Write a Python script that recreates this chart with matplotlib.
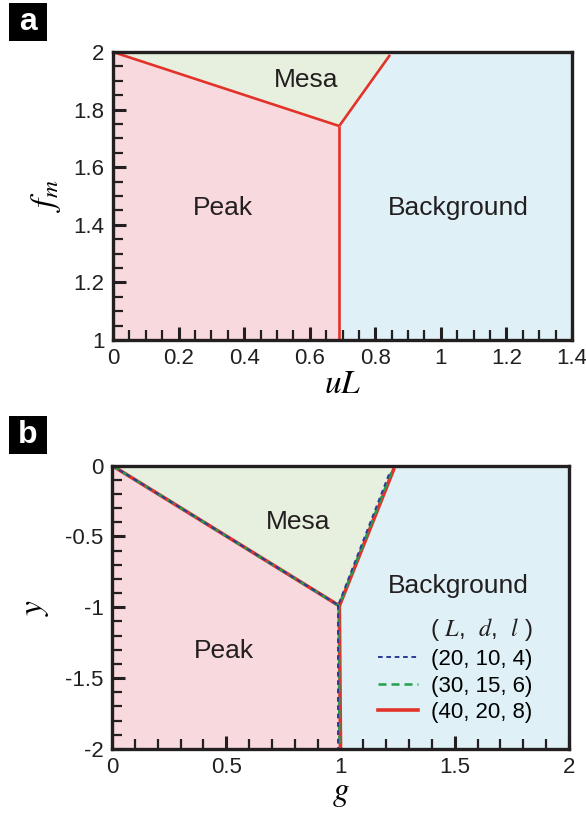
import numpy as np
import matplotlib
matplotlib.use("Agg")
import matplotlib.pyplot as plt
from matplotlib.patches import Rectangle
from matplotlib.ticker import MultipleLocator

plt.rcParams["font.family"] = ["Liberation Sans", "DejaVu Sans"]
plt.rcParams["mathtext.fontset"] = "stix"

PINK = "#f8d9de"
GREEN = "#e7f0de"
BLUE = "#dff1f6"
RED = "#e2332a"
INK = "#231f20"

# ── panel a: phase boundaries in the (uL, f_m) plane ────────────────────────
a_peak_mesa_x = [0.0, 0.69]
a_peak_mesa_y = [2.0, 1.743]
a_mesa_bg_x = [0.69, 0.845]
a_mesa_bg_y = [1.743, 1.99]
a_peak_bg_x = [0.69, 0.69]
a_peak_bg_y = [1.743, 1.0]

# ── panel b: boundaries in the (g, y) plane for three system sizes ──────────
b_sizes = ["(20, 10, 4)", "(30, 15, 6)", "(40, 20, 8)"]
b_x = [
    [0.0, 0.99, 1.215, 0.99, 0.99],
    [0.0, 0.993, 1.222, 0.993, 0.995],
    [0.0, 0.995, 1.232, 0.995, 1.0],
]
b_y = [
    [0.0, -0.985, -0.05, -0.985, -2.0],
    [0.0, -0.99, -0.05, -0.99, -2.0],
    [0.0, -0.99, -0.03, -0.99, -2.0],
]

W, H = 586, 815
fig = plt.figure(figsize=(W / 100, H / 100), dpi=100)


def style_axes(ax, xmaj, xmin, ymaj, ymin):
    ax.xaxis.set_major_locator(MultipleLocator(xmaj))
    ax.xaxis.set_minor_locator(MultipleLocator(xmin))
    ax.yaxis.set_major_locator(MultipleLocator(ymaj))
    ax.yaxis.set_minor_locator(MultipleLocator(ymin))
    ax.tick_params(which="both", direction="in", top=False, right=False,
                   colors=INK, labelsize=16)
    ax.tick_params(which="major", length=9.5, width=2.2, pad=6)
    ax.tick_params(which="minor", length=7, width=1.6)
    ax.xaxis.set_major_formatter(lambda v, _: f"{v:g}")
    ax.yaxis.set_major_formatter(lambda v, _: f"{v:g}")
    for s in ax.spines.values():
        s.set_linewidth(2.4)
        s.set_color(INK)
        s.set_zorder(10)


def panel_label(txt, cx, cy):
    # black square with a white bold letter, centred at pixel (cx, cy)
    size = 38
    fig.patches.append(Rectangle(((cx - size / 2) / W, 1 - (cy + size / 2) / H),
                                 size / W, size / H, transform=fig.transFigure,
                                 facecolor="black", edgecolor="none"))
    fig.text(cx / W, 1 - cy / H, txt, color="white", fontsize=23,
             fontweight="bold", ha="center", va="center")


def region_text(ax, x, y, s):
    ax.text(x, y, s, fontsize=19, ha="center", va="center", color=INK)


# ── panel a ─────────────────────────────────────────────────────────────────
ax1 = fig.add_axes([113 / W, 1 - 340 / H, 459 / W, 288 / H])
ax1.set_xlim(0, 1.4)
ax1.set_ylim(1, 2)
kx, ky = a_peak_mesa_x[1], a_peak_mesa_y[1]
tx = a_mesa_bg_x[1] + 0.006
ax1.fill([0, 0, kx, a_peak_bg_x[1]], [1, 2, ky, a_peak_bg_y[1]], color=PINK, lw=0)
ax1.fill([0, kx, a_mesa_bg_x[1], tx], [2, ky, a_mesa_bg_y[1], 2], color=GREEN, lw=0)
ax1.fill([a_peak_bg_x[1], kx, a_mesa_bg_x[1], tx, 1.4, 1.4],
         [1, ky, a_mesa_bg_y[1], 2, 2, 1], color=BLUE, lw=0)
for xs, ys in [(a_peak_mesa_x, a_peak_mesa_y), (a_mesa_bg_x, a_mesa_bg_y),
               (a_peak_bg_x, a_peak_bg_y)]:
    ax1.plot(xs, ys, color=RED, lw=1.9, solid_capstyle="butt", zorder=5)
style_axes(ax1, 0.2, 0.05, 0.2, 0.05)
region_text(ax1, 0.59, 1.903, "Mesa")
region_text(ax1, 0.335, 1.458, "Peak")
region_text(ax1, 1.052, 1.458, "Background")
ax1.set_xlabel("$uL$", fontsize=24, labelpad=0)
ax1.set_ylabel("$f_m$", fontsize=24, labelpad=8)

# ── panel b ─────────────────────────────────────────────────────────────────
ax2 = fig.add_axes([112 / W, 1 - 749 / H, 457 / W, 283.5 / H])
ax2.set_xlim(0, 2)
ax2.set_ylim(-2, 0)
rx, ry = b_x[2], b_y[2]
ax2.fill([0, rx[0], rx[1], rx[4]], [-2, ry[0], ry[1], ry[4]], color=PINK, lw=0)
ax2.fill([rx[0], rx[1], rx[2], rx[2] + 0.012], [ry[0], ry[1], ry[2], 0],
         color=GREEN, lw=0)
ax2.fill([rx[4], rx[1], rx[2], rx[2] + 0.012, 2, 2],
         [ry[4], ry[1], ry[2], 0, 0, -2], color=BLUE, lw=0)

styles = [
    dict(color="#2b3a9b", lw=1.4, ls=(0, (2.4, 1.9)), zorder=7),
    dict(color="#22a04a", lw=1.8, ls=(0, (3.2, 2.0)), zorder=6),
    dict(color=RED, lw=2.6, ls="-", zorder=5),
]
handles = {}
for i in [2, 1, 0]:
    xs, ys = b_x[i], b_y[i]
    h, = ax2.plot(xs[:3], ys[:3], **styles[i])
    ax2.plot(xs[3:], ys[3:], **styles[i])
    handles[i] = h
style_axes(ax2, 0.5, 0.1, 0.5, 0.1)
region_text(ax2, 0.814, -0.40, "Mesa")
region_text(ax2, 1.515, -0.85, "Background")
region_text(ax2, 0.49, -1.31, "Peak")
ax2.set_xlabel("$g$", fontsize=24, labelpad=0)
ax2.set_ylabel("$y$", fontsize=24, labelpad=10)

ax2.text(1.39, -1.16, "( $L$,  $d$,  $l$ )", fontsize=17.5, ha="left",
         va="center", color=INK)
ax2.legend([handles[0], handles[1], handles[2]], b_sizes, frameon=False,
           loc="center left", bbox_to_anchor=(0.582, 0.222), fontsize=16,
           handlelength=1.8, handletextpad=0.6, labelspacing=0.25,
           borderpad=0, borderaxespad=0)

panel_label("a", 28, 22)
panel_label("b", 28, 435)

fig.savefig("out.png", dpi=100)
